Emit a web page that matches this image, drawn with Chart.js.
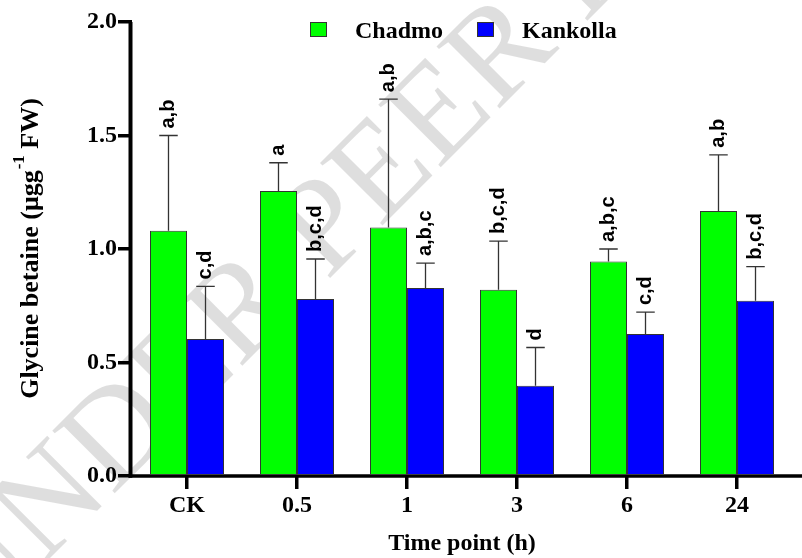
<!DOCTYPE html>
<html lang="en">
<head>
    <meta charset="UTF-8">
    <title>Glycine betaine</title>
    <script src="https://cdn.jsdelivr.net/npm/chart.js"></script>
    <style>
        body { margin: 0; background: #fff; }
    </style>
</head>
<body>
    <canvas id="gbChart" width="802" height="558"></canvas>

    <script>
        // data
        const timePoints = ['CK', '0.5', '1', '3', '6', '24'];
        const chadmoMean = [1.08, 1.255, 1.095, 0.82, 0.945, 1.167];
        const chadmoErr = [0.42, 0.125, 0.565, 0.215, 0.055, 0.248];
        const kankollaMean = [0.603, 0.78, 0.828, 0.398, 0.626, 0.772];
        const kankollaErr = [0.232, 0.176, 0.11, 0.168, 0.096, 0.15];
        const chadmoLetters = ['a,b', 'a', 'a,b', 'b,c,d', 'a,b,c', 'a,b'];
        const kankollaLetters = ['c,d', 'b,c,d', 'a,b,c', 'd', 'c,d', 'b,c,d'];
        const yTicks = [0, 0.5, 1.0, 1.5, 2.0];

        const serif = '"Liberation Serif", "Times New Roman", serif';
        const sans = '"Liberation Sans", Arial, sans-serif';

        // watermark behind the bars
        const watermark = {
            id: 'watermark',
            beforeDatasetsDraw(chart) {
                const ctx = chart.ctx;
                ctx.save();
                ctx.translate(-26, 634);
                ctx.rotate(-45 * Math.PI / 180);
                ctx.font = '135px ' + serif;
                ctx.fillStyle = 'rgba(0,0,0,0.13)';
                ctx.fillText('UNDER PEER REVIEW', 0, 0);
                ctx.restore();
            }
        };

        // error bars, significance letters, axis lines, legend, y title
        const extras = {
            id: 'extras',
            afterDatasetsDraw(chart) {
                const ctx = chart.ctx;
                const y = chart.scales.y;
                const area = chart.chartArea;
                const errs = [chadmoErr, kankollaErr];
                const letters = [chadmoLetters, kankollaLetters];

                chart.data.datasets.forEach((ds, i) => {
                    chart.getDatasetMeta(i).data.forEach((bar, j) => {
                        const top = y.getPixelForValue(ds.data[j] + errs[i][j]);
                        const half = bar.width / 4;
                        ctx.save();
                        ctx.strokeStyle = '#333';
                        ctx.lineWidth = 1.3;
                        ctx.beginPath();
                        ctx.moveTo(bar.x, bar.y);
                        ctx.lineTo(bar.x, top);
                        ctx.moveTo(bar.x - half, top);
                        ctx.lineTo(bar.x + half, top);
                        ctx.stroke();

                        ctx.translate(bar.x, top - 7);
                        ctx.rotate(-Math.PI / 2);
                        ctx.font = 'bold 20px ' + sans;
                        ctx.fillStyle = '#000';
                        ctx.textAlign = 'left';
                        ctx.textBaseline = 'middle';
                        ctx.fillText(letters[i][j], 0, 0);
                        ctx.restore();
                    });
                });

                // axis lines
                const axisX = area.left - 1.5;
                ctx.save();
                ctx.strokeStyle = '#000';
                ctx.lineWidth = 4;
                ctx.beginPath();
                ctx.moveTo(axisX, area.top);
                ctx.lineTo(axisX, area.bottom + 1.5);
                ctx.stroke();
                ctx.lineWidth = 3.5;
                ctx.beginPath();
                ctx.moveTo(axisX - 2, area.bottom);
                ctx.lineTo(chart.width, area.bottom);
                ctx.stroke();
                ctx.restore();

                // legend
                ctx.save();
                ctx.font = 'bold 24px ' + serif;
                ctx.textBaseline = 'alphabetic';
                const legendX = [310, 477];
                chart.data.datasets.forEach((ds, i) => {
                    ctx.fillStyle = ds.backgroundColor;
                    ctx.fillRect(legendX[i], 22, 17, 15);
                    ctx.strokeStyle = '#333';
                    ctx.lineWidth = 1;
                    ctx.strokeRect(legendX[i] + 0.5, 22.5, 16, 14);
                    ctx.fillStyle = '#000';
                    ctx.fillText(ds.label, legendX[i] + 45, 38);
                });
                ctx.restore();

                // y axis title with superscript
                ctx.save();
                ctx.translate(31, (area.top + area.bottom) / 2);
                ctx.rotate(-Math.PI / 2);
                ctx.fillStyle = '#000';
                const big = 'bold 26px ' + serif;
                const small = 'bold 17px ' + serif;
                const p1 = 'Glycine betaine (\u03bcgg';
                const p2 = '-1';
                const p3 = ' FW)';
                ctx.font = big;
                const w1 = ctx.measureText(p1).width;
                const w3 = ctx.measureText(p3).width;
                ctx.font = small;
                const w2 = ctx.measureText(p2).width;
                let x0 = -(w1 + w2 + w3) / 2;
                ctx.textBaseline = 'middle';
                ctx.font = big;
                ctx.fillText(p1, x0, 0);
                ctx.font = small;
                ctx.fillText(p2, x0 + w1 + 1, -11);
                ctx.font = big;
                ctx.fillText(p3, x0 + w1 + w2 + 1, 0);
                ctx.restore();
            }
        };

        const ctx = document.getElementById('gbChart').getContext('2d');
        new Chart(ctx, {
            type: 'bar',
            data: {
                labels: timePoints,
                datasets: [
                    {
                        label: 'Chadmo',
                        data: chadmoMean,
                        backgroundColor: '#00ff00',
                        borderColor: '#333',
                        borderWidth: 1
                    },
                    {
                        label: 'Kankolla',
                        data: kankollaMean,
                        backgroundColor: '#0000ff',
                        borderColor: '#333',
                        borderWidth: 1
                    }
                ]
            },
            options: {
                responsive: false,
                animation: false,
                devicePixelRatio: 1,
                layout: { padding: { top: 22, right: 10, left: 0, bottom: 0 } },
                datasets: { bar: { categoryPercentage: 0.673, barPercentage: 1 } },
                plugins: {
                    legend: { display: false },
                    tooltip: { enabled: false }
                },
                scales: {
                    x: {
                        offset: true,
                        border: { display: false },
                        grid: {
                            offset: false,
                            drawOnChartArea: false,
                            tickLength: 13,
                            color: '#000',
                            lineWidth: 3.5
                        },
                        ticks: {
                            color: '#000',
                            font: { family: serif, size: 24, weight: 'bold' },
                            padding: 2
                        },
                        title: {
                            display: true,
                            text: 'Time point (h)',
                            color: '#000',
                            font: { family: serif, size: 24, weight: 'bold' },
                            padding: { top: 0, bottom: 0 }
                        },
                        afterFit(scale) { scale.height = 82; }
                    },
                    y: {
                        min: 0,
                        max: 2,
                        border: { display: false },
                        grid: {
                            drawOnChartArea: false,
                            tickLength: 14,
                            color: '#000',
                            lineWidth: 3.5
                        },
                        afterBuildTicks(scale) {
                            scale.ticks = yTicks.map(v => ({ value: v }));
                        },
                        ticks: {
                            color: '#000',
                            font: { family: serif, size: 24, weight: 'bold' },
                            padding: 1,
                            callback: v => v.toFixed(1)
                        },
                        afterFit(scale) { scale.width = 132; }
                    }
                }
            },
            plugins: [watermark, extras]
        });
    </script>
</body>
</html>
